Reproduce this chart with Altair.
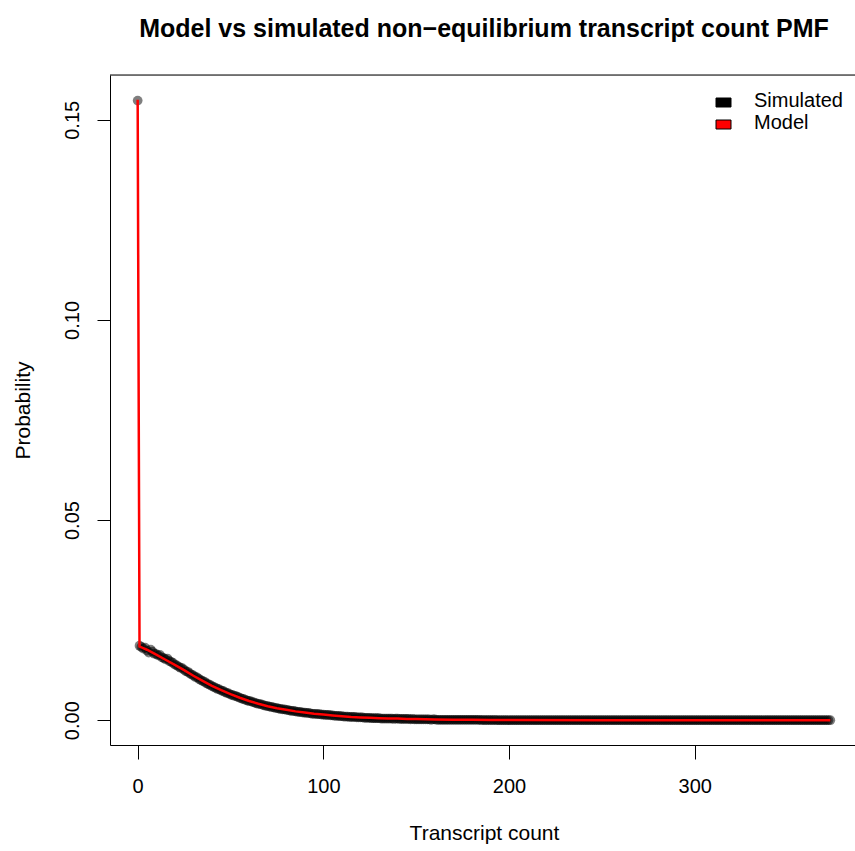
import altair as alt
import pandas as pd

# Simulated PMF, one value per transcript count 0, 1, 2, ...
sim_prob = [
    0.1548, 0.0186, 0.0183, 0.0179, 0.0181, 0.0174, 0.0169, 0.0176, 0.0171, 0.0166,
    0.0165, 0.0162, 0.0163, 0.0157, 0.0155, 0.0152, 0.0154, 0.0148, 0.0146, 0.0143,
    0.0139, 0.0137, 0.0134, 0.0131, 0.0130, 0.0126, 0.0122, 0.0121, 0.0117, 0.0114,
    0.0112, 0.0108, 0.0107, 0.0103, 0.0100, 0.0098, 0.0096, 0.0092, 0.0090, 0.0088,
    0.0085, 0.0083, 0.0081, 0.0078, 0.0077, 0.0074, 0.0073, 0.0070, 0.0068, 0.0067,
    0.0064, 0.0063, 0.0061, 0.0060, 0.0058, 0.0056, 0.0054, 0.0053, 0.0051, 0.0049,
    0.0048, 0.0047, 0.0045, 0.0044, 0.0042, 0.0041, 0.0040, 0.0039, 0.0037, 0.0036,
    0.0035, 0.0034, 0.0033, 0.0032, 0.0031, 0.0030, 0.0029, 0.0028, 0.0027, 0.0027,
    0.0026, 0.0025, 0.0024, 0.0023, 0.0023, 0.0022, 0.0021, 0.0021, 0.0020, 0.0019,
    0.0019, 0.0018, 0.0018, 0.0017, 0.0016, 0.0016, 0.0016, 0.0015, 0.0015, 0.0014,
    0.0014, 0.0013, 0.0013, 0.0013, 0.0012, 0.0012, 0.0011, 0.0011, 0.0011, 0.0010,
    0.0010, 0.0009, 0.0009, 0.0009, 0.0008, 0.0008, 0.0008, 0.0008, 0.0007, 0.0007,
    0.0007, 0.0007, 0.0006, 0.0006, 0.0006, 0.0006, 0.0005, 0.0005, 0.0005, 0.0005,
    0.0005, 0.0004, 0.0004, 0.0004, 0.0004, 0.0004, 0.0004, 0.0004, 0.0003, 0.0004,
    0.0004, 0.0003, 0.0003, 0.0003, 0.0003, 0.0003, 0.0003, 0.0002, 0.0003, 0.0002,
    0.0002, 0.0002, 0.0002, 0.0002, 0.0002, 0.0002, 0.0002, 0.0002, 0.0001, 0.0002,
    0.0002, 0.0001, 0.0001, 0.0001, 0.0001, 0.0001, 0.0001, 0.0001, 0.0001, 0.0001,
    0.0001, 0.0001, 0.0001, 0.0001, 0.0001, 0.0001, 0.0001, 0.0001, 0.0001, 0.0001,
    0.0001, 0.0001, 0.0001, 0.0001, 0.0001, 0.0, 0.0001, 0.0, 0.0, 0.0001,
    0.0, 0.0, 0.0001, 0.0, 0.0, 0.0, 0.0, 0.0, 0.0, 0.0,
    0.0, 0.0, 0.0, 0.0, 0.0, 0.0, 0.0, 0.0, 0.0, 0.0,
    0.0, 0.0, 0.0, 0.0, 0.0, 0.0, 0.0, 0.0, 0.0, 0.0,
    0.0, 0.0, 0.0, 0.0, 0.0, 0.0, 0.0, 0.0, 0.0, 0.0,
    0.0, 0.0, 0.0, 0.0, 0.0, 0.0, 0.0, 0.0, 0.0, 0.0,
    0.0, 0.0, 0.0, 0.0, 0.0, 0.0, 0.0, 0.0, 0.0, 0.0,
    0.0, 0.0, 0.0, 0.0, 0.0, 0.0, 0.0, 0.0, 0.0, 0.0,
    0.0, 0.0, 0.0, 0.0, 0.0, 0.0, 0.0, 0.0, 0.0, 0.0,
    0.0, 0.0, 0.0, 0.0, 0.0, 0.0, 0.0, 0.0, 0.0, 0.0,
    0.0, 0.0, 0.0, 0.0, 0.0, 0.0, 0.0, 0.0, 0.0, 0.0,
    0.0, 0.0, 0.0, 0.0, 0.0, 0.0, 0.0, 0.0, 0.0, 0.0,
    0.0, 0.0, 0.0, 0.0, 0.0, 0.0, 0.0, 0.0, 0.0, 0.0,
    0.0, 0.0, 0.0, 0.0, 0.0, 0.0, 0.0, 0.0, 0.0, 0.0,
    0.0, 0.0, 0.0, 0.0, 0.0, 0.0, 0.0, 0.0, 0.0, 0.0,
    0.0, 0.0, 0.0, 0.0, 0.0, 0.0, 0.0, 0.0, 0.0, 0.0,
    0.0, 0.0, 0.0, 0.0, 0.0, 0.0, 0.0, 0.0, 0.0, 0.0,
    0.0, 0.0, 0.0, 0.0, 0.0, 0.0, 0.0, 0.0, 0.0, 0.0,
    0.0, 0.0, 0.0, 0.0, 0.0, 0.0, 0.0, 0.0, 0.0, 0.0,
    0.0, 0.0, 0.0, 0.0,
]

# Model PMF (red line)
model_count = [0, 1, 5, 10, 15, 20, 25, 30, 35, 40, 45, 50, 55, 60, 65, 70, 75, 80,
               85, 90, 95, 100, 105, 110, 115, 120, 125, 130, 135, 140, 145, 150,
               160, 170, 180, 190, 200, 250, 300, 373]
model_prob = [0.1550, 0.0184, 0.0176, 0.0164, 0.0151, 0.0138, 0.0125, 0.0111, 0.0098,
              0.0086, 0.0075, 0.0065, 0.0056, 0.0048, 0.0041, 0.0035, 0.0030, 0.0026,
              0.0022, 0.0019, 0.0016, 0.0014, 0.0012, 0.0010, 0.0008, 0.0007, 0.0006,
              0.0005, 0.0004, 0.0004, 0.0003, 0.0003, 0.0002, 0.0001, 0.0001, 0.00005,
              0.00003, 0.0, 0.0, 0.0]

x_ticks = [0, 100, 200, 300]
y_ticks = [0.00, 0.05, 0.10, 0.15]
legend_labels = ["Simulated", "Model"]
legend_colors = ["#000000", "#ff0000"]

FONT = "Liberation Sans"
W, H = 745, 670

sim_df = pd.DataFrame({"count": list(range(len(sim_prob))), "prob": sim_prob})
model_df = pd.DataFrame({"count": model_count, "prob": model_prob})

xs = alt.Scale(domain=[-14.9, 386.3], nice=False, zero=False)
ys = alt.Scale(domain=[-0.0062, 0.1612], nice=False, zero=False)

x_axis = alt.Axis(values=x_ticks, title="Transcript count", grid=False,
                  domainColor="black", tickColor="black", tickSize=14,
                  labelFont=FONT, labelFontSize=20, labelColor="black",
                  labelPadding=33, labelBaseline="alphabetic", labelFlush=False,
                  labelOverlap=False,
                  titleFont=FONT, titleFontSize=21, titleFontWeight="normal",
                  titleColor="black", titleX=374, titleY=94,
                  titleBaseline="alphabetic", titleAlign="center")
y_axis = alt.Axis(values=y_ticks, format=".2f", title="Probability", grid=False,
                  domainColor="black", tickColor="black", tickSize=13,
                  labelFont=FONT, labelFontSize=20, labelColor="black",
                  labelAngle=270, labelAlign="center", labelBaseline="alphabetic",
                  labelPadding=19, labelFlush=False, labelOverlap=False,
                  titleFont=FONT, titleFontSize=21, titleFontWeight="normal",
                  titleColor="black", titleAngle=270, titleX=-80.5, titleY=335,
                  titleAlign="center", titleBaseline="alphabetic")

points = alt.Chart(sim_df).mark_circle(size=95, opacity=0.5, color="black").encode(
    x=alt.X("count:Q", scale=xs, axis=x_axis),
    y=alt.Y("prob:Q", scale=ys, axis=y_axis),
)
line = alt.Chart(model_df).mark_line(color="red", strokeWidth=2.5).encode(
    x=alt.X("count:Q", scale=xs),
    y=alt.Y("prob:Q", scale=ys),
)

dummy = pd.DataFrame({"k": [0]})
top_border = alt.Chart(dummy).mark_rule(color="black", strokeWidth=1).encode(
    x=alt.value(0), x2=alt.value(W), y=alt.value(0))

leg_layers = []
for i, (lab, col) in enumerate(zip(legend_labels, legend_colors)):
    y0 = 23 + 22 * i
    leg_layers.append(
        alt.Chart(dummy).mark_rect(fill=col, stroke="black", strokeWidth=1).encode(
            x=alt.value(606), x2=alt.value(621), y=alt.value(y0), y2=alt.value(y0 + 9)))
    leg_layers.append(
        alt.Chart(dummy).mark_text(text=lab, font=FONT, fontSize=20, color="black",
                                   align="left", baseline="alphabetic").encode(
            x=alt.value(644), y=alt.value(y0 + 9.3)))

chart = alt.layer(points, line, top_border, *leg_layers).properties(
    width=W, height=H,
    title=alt.TitleParams(text="Model vs simulated non\u2212equilibrium transcript count PMF",
                          font=FONT, fontSize=25, fontWeight="bold", color="black",
                          anchor="middle", offset=13, baseline="alphabetic", dx=1.5),
    padding={"left": 110, "top": 75, "right": 0, "bottom": 106},
    autosize=alt.AutoSizeParams(type="none"),
).configure_view(stroke=None).configure(background="white")

chart.save("out.html", embed_options={"renderer": "svg", "actions": False})
